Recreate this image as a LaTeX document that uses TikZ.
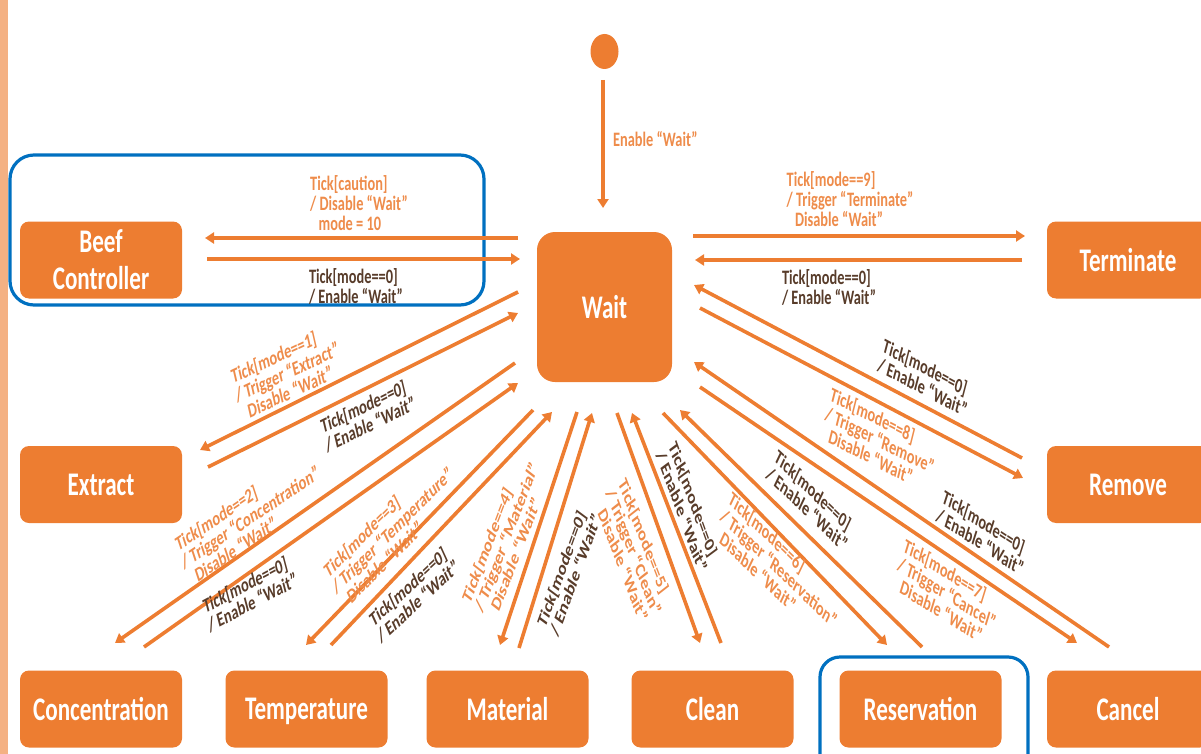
\documentclass[tikz,border=0pt]{standalone}
\usepackage{fontspec}
\setmainfont{Carlito}
\newfontfamily\boxfont{Carlito}[FakeStretch=0.7]
\usetikzlibrary{arrows.meta,shapes.geometric}
\definecolor{stateorange}{RGB}{237,125,49}
\definecolor{guardorange}{RGB}{238,140,75}
\definecolor{guarddark}{RGB}{88,60,42}
\definecolor{focusblue}{RGB}{0,112,192}
\definecolor{sidepeach}{RGB}{244,177,131}
\tikzset{
	state/.style={fill=stateorange,rounded corners=9pt,minimum width=162pt,minimum height=77pt,inner sep=0pt,text depth=0pt,text=white,align=center,font=\boxfont\bfseries\fontsize{33}{37}\selectfont},
	initstate/.style={ellipse,fill=stateorange,minimum width=28pt,minimum height=35pt,inner sep=0pt},
	flow/.style={draw=stateorange,line width=3.6pt,-{Triangle[length=9pt,width=11pt]}},
	guard/.style={inner sep=0pt,align=left,font=\bfseries\fontsize{20.5}{20}\selectfont},
	guardout/.style={guard,text=guardorange},
	guardin/.style={guard,text=guarddark},
	tilt/.style={xscale=0.7,rotate={atan(0.7*tan(#1))}},
	focus/.style={draw=focusblue,line width=3.2pt,rounded corners=24pt}
}
\begin{document}
\begin{tikzpicture}[x=1pt,y=-1pt]
	\useasboundingbox (0,0) rectangle (1201,754);
	\fill[sidepeach] (0,0) rectangle (8,754);

	\node[initstate] (init) at (604.5,51.5) {};
	\node[state,minimum width=135pt,minimum height=150pt,rounded corners=18pt] (wait) at (604.5,307) {Wait};
	\node[state] (beef) at (101,260) {Beef\\Controller};
	\node[state] (term) at (1128,260) {Terminate};
	\node[state] (extract) at (101,484.5) {Extract};
	\node[state] (remove) at (1128,484.5) {Remove};
	\node[state] (conc) at (101,709) {Concentration};
	\node[state] (temp) at (306.5,709) {Temperature};
	\node[state] (mat) at (507.5,709) {Material};
	\node[state] (clean) at (712.5,709) {Clean};
	\node[state] (resv) at (920.5,709) {Reservation};
	\node[state] (cancel) at (1128,709) {Cancel};

	\draw[focus] (10,155) rectangle (484,305);
	\draw[focus,rounded corners=20pt] (820,657) rectangle (1028,780);

	\foreach \n/\xa/\ya/\xb/\yb in {
		init-wait/603/80/603/208,
		wait-beef/518/238/205/238, beef-wait/207/259/520/259,
		wait-term/693/236/1025/236, term-wait/1022/260/695/260,
		wait-extract/518/292/200/450, extract-wait/208/467/518/313,
		wait-conc/515/363/115/643, conc-wait/144/647/518/383,
		wait-temp/533/410/306/645, temp-wait/331/645/552/412,
		wait-mat/577/412/500/645, mat-wait/519/648/592/413,
		wait-clean/617/413/700/643, clean-wait/721/643/632/413,
		wait-resv/663/413/887/645, resv-wait/922/647/680/410,
		wait-cancel/700/387/1077/643, cancel-wait/1109/647/694/362,
		wait-remove/700/308/1023/478, remove-wait/1022/458/694/285}{
		\coordinate (\n-a) at (\xa,\ya);
		\coordinate (\n-b) at (\xb,\yb);
		\draw[flow] (\n-a) -- (\n-b);
	}

	\node[guardout,tilt=0,anchor=west] (l-init) at (613,139) {Enable “Wait”};
	\node[guardout,tilt=0] (l-beef-out) at (359,203) {Tick[caution]\\/ Disable “Wait”\\\hspace*{12pt}mode = 10};
	\node[guardin,tilt=0] (l-beef-in) at (356,286) {Tick[mode==0]\\/ Enable “Wait”};
	\node[guardout,tilt=0] (l-term-out) at (850,199) {Tick[mode==9]\\/ Trigger “Terminate”\\\hspace*{12pt}Disable “Wait”};
	\node[guardin,tilt=0] (l-term-in) at (829,287) {Tick[mode==0]\\/ Enable “Wait”};
	\node[guardout,tilt=25] (l-extract-out) at (287,372) {Tick[mode==1]\\/ Trigger “Extract”\\\hspace*{12pt}Disable “Wait”};
	\node[guardin,tilt=26] (l-extract-in) at (368,415) {Tick[mode==0]\\/ Enable “Wait”};
	\node[guardout,tilt=34] (l-conc-out) at (250,517) {Tick[mode==2]\\/ Trigger “Concentration”\\\hspace*{12pt}Disable “Wait”};
	\node[guardin,tilt=28] (l-conc-in) at (250,593) {Tick[mode==0]\\/ Enable “Wait”};
	\node[guardout,tilt=45] (l-temp-out) at (392,530) {Tick[mode==3]\\/ Trigger “Temperature”\\\hspace*{12pt}Disable “Wait”};
	\node[guardin,tilt=43] (l-temp-in) at (414,593) {Tick[mode==0]\\/ Enable “Wait”};
	\node[guardout,tilt=69] (l-mat-out) at (506,537) {Tick[mode==4]\\/ Trigger “Material”\\\hspace*{12pt}Disable “Wait”};
	\node[guardin,tilt=70] (l-mat-in) at (569,570) {Tick[mode==0]\\/ Enable “Wait”};
	\node[guardout,tilt=-69] (l-clean-out) at (634,552) {Tick[mode==5]\\/ Trigger “Clean”\\\hspace*{12pt}Disable “Wait”};
	\node[guardin,tilt=-70] (l-clean-in) at (688,507) {Tick[mode==0]\\/ Enable “Wait”};
	\node[guardout,tilt=-44] (l-resv-out) at (779,568) {Tick[mode==6]\\/ Trigger “Reservation”\\\hspace*{12pt}Disable “Wait”};
	\node[guardin,tilt=-44] (l-resv-in) at (811,501) {Tick[mode==0]\\/ Enable “Wait”};
	\node[guardout,tilt=-32] (l-cancel-out) at (947,593) {Tick[mode==7]\\/ Trigger “Cancel”\\\hspace*{12pt}Disable “Wait”};
	\node[guardin,tilt=-33] (l-cancel-in) at (983,533) {Tick[mode==0]\\/ Enable “Wait”};
	\node[guardout,tilt=-27] (l-remove-out) at (880,440) {Tick[mode==8]\\/ Trigger “Remove”\\\hspace*{12pt}Disable “Wait”};
	\node[guardin,tilt=-28] (l-remove-in) at (925,378) {Tick[mode==0]\\/ Enable “Wait”};
\end{tikzpicture}
\end{document}
